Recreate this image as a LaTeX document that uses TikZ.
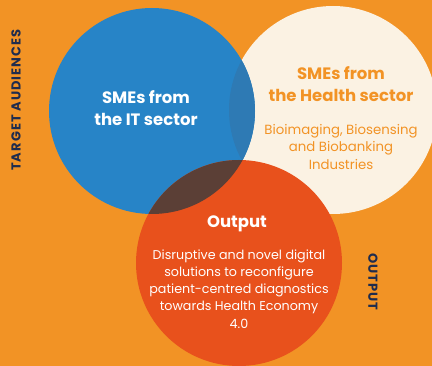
\documentclass[tikz,border=0pt]{standalone}
\usepackage{fontspec}
\setmainfont{Poppins}
\definecolor{bgorange}{HTML}{F29325}
\definecolor{itblue}{HTML}{2784C7}
\definecolor{mixblue}{HTML}{2E7AB4}
\definecolor{healthcream}{HTML}{FBF2E3}
\definecolor{outred}{HTML}{E8511C}
\definecolor{mixbrown}{HTML}{5B3F36}
\definecolor{labelnavy}{HTML}{1F2C4E}
\newfontfamily\widebold[LetterSpace=8]{Poppins}
\tikzset{every node/.style={align=center,inner sep=0pt},
  sidelabel/.style={font=\widebold\fontsize{13}{15}\selectfont\bfseries,text=labelnavy},
  headtext/.style={font=\fontsize{16.5}{21.5}\selectfont\bfseries},
  bodytext/.style={font=\fontsize{12.7}{17.2}\selectfont}}
\newcommand{\venncircle}[3]{\fill[#1] (#2) circle[radius=#3]}

\begin{document}
\begin{tikzpicture}[x=1pt,y=-1pt]
	\fill[bgorange] (0,0) rectangle (432,366);
	\useasboundingbox (0,0) rectangle (432,366);
	\coordinate (it) at (152,111);
	\coordinate (health) at (333,110);
	\coordinate (out) at (239,263);
	
	\venncircle{healthcream}{health}{104};
	\venncircle{itblue}{it}{103};
	\begin{scope}
		\clip (health) circle[radius=104];
		\venncircle{mixblue}{it}{103};
	\end{scope}
	\venncircle{outred}{out}{103};
	\begin{scope}
		\clip (it) circle[radius=103];
		\venncircle{mixbrown}{out}{103};
	\end{scope}
	
	\node[sidelabel,rotate=90] (target) at (16,100) {TARGET AUDIENCES};
	\node[sidelabel,rotate=-90] (output) at (373,282) {OUTPUT};
	
	\node[headtext,text=white] (ittitle) at (146,108) {SMEs from\\the IT sector};
	\node[headtext,text=bgorange] (healthtitle) at (341,84) {SMEs from\\the Health sector};
	\node[bodytext,text=bgorange,font=\fontsize{13.3}{17.5}\selectfont] (healthbody) at (341,147) {Bioimaging, Biosensing\\and Biobanking\\Industries};
	\node[headtext,text=white] (outtitle) at (237,224) {Output};
	\node[bodytext,text=white] (outbody) at (239,289) {Disruptive and novel digital\\solutions to reconfigure\\patient-centred diagnostics\\towards Health Economy\\4.0};
\end{tikzpicture}
\end{document}
